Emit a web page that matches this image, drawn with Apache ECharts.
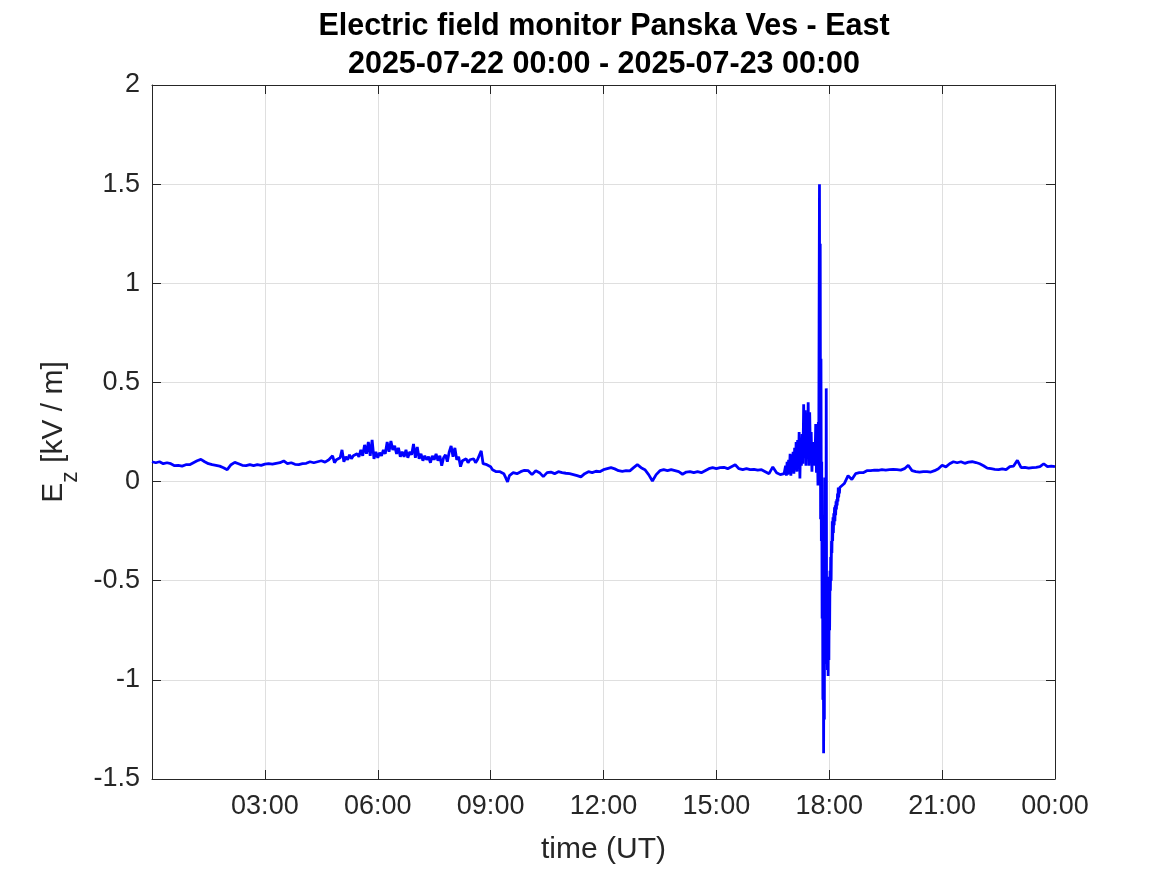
<!DOCTYPE html>
<html>
<head>
<meta charset="utf-8">
<script src="https://cdn.jsdelivr.net/npm/echarts@6/dist/echarts.min.js"></script>
<style>
html,body{margin:0;padding:0;background:#fff;}
#chart{width:1167px;height:875px;}
</style>
</head>
<body>
<div id="chart"></div>
<script>
// ---- Data (hours since 2025-07-22 00:00 UT, Ez in kV/m) ----
const titleLines = ['Electric field monitor Panska Ves - East', '2025-07-22 00:00 - 2025-07-23 00:00'];
const xTickLabels = ['', '03:00', '06:00', '09:00', '12:00', '15:00', '18:00', '21:00', '00:00'];
const yTickValues = [-1.5, -1, -0.5, 0, 0.5, 1, 1.5, 2];

// segment 1: 0.0h .. 4.7h, every 0.1h
const seg1Start = 0.0, seg1Step = 0.1;
const seg1Values = [
  0.10, 0.095, 0.10, 0.09, 0.095, 0.09,
  0.08, 0.082, 0.078, 0.085, 0.085,
  0.095, 0.105, 0.112, 0.10, 0.09,
  0.085, 0.082, 0.078, 0.07, 0.06,
  0.085, 0.097, 0.09, 0.082, 0.08,
  0.085, 0.08, 0.085, 0.082, 0.088,
  0.09, 0.088, 0.092, 0.095, 0.104,
  0.09, 0.095, 0.087, 0.085, 0.09,
  0.092, 0.10, 0.095, 0.10, 0.105, 0.098, 0.11
];

// segment 2: 4.8h .. 9.55h, every 0.05h (noisy morning)
const seg2Start = 4.8, seg2Step = 0.05;
const seg2Values = [
  0.13, 0.095, 0.11, 0.10, 0.12, 0.16, 0.10, 0.125, 0.11, 0.135,
  0.115, 0.13, 0.12, 0.14, 0.125, 0.16, 0.13, 0.185, 0.14, 0.20,
  0.13, 0.21, 0.115, 0.15, 0.12, 0.145, 0.13, 0.16, 0.14, 0.20,
  0.15, 0.205, 0.16, 0.18, 0.14, 0.17, 0.125, 0.15, 0.125, 0.16,
  0.12, 0.15, 0.135, 0.19, 0.12, 0.175, 0.115, 0.14, 0.105, 0.13,
  0.11, 0.125, 0.095, 0.13, 0.11, 0.14, 0.105, 0.13, 0.08, 0.12,
  0.135, 0.10, 0.15, 0.18, 0.125, 0.17, 0.11, 0.125, 0.075, 0.105,
  0.10, 0.115, 0.095, 0.11, 0.10, 0.115, 0.095, 0.11, 0.10, 0.155,
  0.09, 0.10, 0.085, 0.095, 0.075, 0.06, 0.065, 0.05, 0.055, 0.05,
  0.045, 0.04, 0.02, -0.002, 0.03, 0.04
];

// segment 3: 9.6h .. 16.7h, every 0.1h
const seg3Start = 9.6, seg3Step = 0.1;
const seg3Values = [
  0.045, 0.04, 0.05, 0.057, 0.055,
  0.035, 0.055, 0.045, 0.025, 0.045,
  0.048, 0.04, 0.05, 0.045, 0.042,
  0.04, 0.035, 0.03, 0.024, 0.04,
  0.05, 0.045, 0.052, 0.05, 0.06,
  0.065, 0.07, 0.064, 0.055, 0.052,
  0.055, 0.054, 0.07, 0.085, 0.07,
  0.06, 0.035, 0.003, 0.035, 0.055,
  0.06, 0.055, 0.06, 0.055, 0.05,
  0.037, 0.048, 0.05, 0.045, 0.05,
  0.045, 0.055, 0.065, 0.07, 0.065,
  0.07, 0.072, 0.065, 0.075, 0.085,
  0.065, 0.06, 0.065, 0.06, 0.062,
  0.058, 0.06, 0.05, 0.04, 0.074,
  0.045, 0.035
];

// segment 4: 16.8h .. 17.68h, every 0.02h (storm onset)
const seg4Start = 16.8, seg4Step = 0.02;
const seg4Values = [
  0.04, 0.035, 0.08, 0.03, 0.10, 0.035, 0.11, 0.04, 0.14, 0.03,
  0.12, 0.05, 0.15, 0.04, 0.17, 0.06, 0.20, 0.05, 0.21, 0.07,
  0.25, 0.015, 0.22, 0.08, 0.24, 0.09, 0.39, 0.12, 0.36, 0.08,
  0.29, 0.12, 0.40, 0.08, 0.35, 0.13, 0.25, 0.05, 0.20, 0.10,
  0.15, 0.08, 0.29, 0.045, 0.28
];

// segment 5: 17.70h .. 18.29h, every 0.01h (lightning activity)
const seg5Start = 17.7, seg5Step = 0.01;
const seg5Values = [
  -0.02, 0.30, 0.05, 0.80, 1.50, 0.10, 1.20, -0.19, 0.62, -0.30,
  0.10, -0.69, -0.20, -1.10, -0.40, -1.37, -0.60, -1.20, 0.02, -0.92,
  -0.30, -0.80, 0.47, -0.73, -0.50, -0.95, -0.48, -0.98, -0.55, -0.90,
  -0.50, -0.75, -0.45, -0.55, -0.38, -0.50, -0.30, -0.36, -0.20, -0.30,
  -0.18, -0.26, -0.16, -0.22, -0.13, -0.20, -0.12, -0.17, -0.10, -0.14,
  -0.09, -0.12, -0.06, -0.10, -0.03, -0.08, -0.04, -0.06, -0.03, -0.04
];

// segment 6: 18.3h .. 24.0h, every 0.1h (recovery)
const seg6Start = 18.3, seg6Step = 0.1;
const seg6Values = [
  -0.02, -0.01, 0.03, 0.01, 0.04, 0.045, 0.045, 0.055, 0.055, 0.058,
  0.057, 0.06, 0.058, 0.06, 0.062, 0.06, 0.058, 0.065, 0.082, 0.055,
  0.05, 0.048, 0.05, 0.05, 0.048, 0.055, 0.065, 0.082, 0.074, 0.09,
  0.10, 0.095, 0.10, 0.092, 0.098, 0.10, 0.096, 0.09, 0.08, 0.068,
  0.065, 0.062, 0.06, 0.064, 0.06, 0.075, 0.078, 0.107, 0.07, 0.072,
  0.068, 0.07, 0.072, 0.075, 0.09, 0.075, 0.078, 0.075
];

// ---- build series ----
function seg(start, step, vals) {
  return vals.map((v, i) => [+(start + i * step).toFixed(3), v]);
}
const lineData = [].concat(
  seg(seg1Start, seg1Step, seg1Values),
  seg(seg2Start, seg2Step, seg2Values),
  seg(seg3Start, seg3Step, seg3Values),
  seg(seg4Start, seg4Step, seg4Values),
  seg(seg5Start, seg5Step, seg5Values),
  seg(seg6Start, seg6Step, seg6Values)
);

const FONT = 'Liberation Sans, Arial, Helvetica, sans-serif';
const AX = '#262626';
const GRIDC = '#dfdfdf';

const chart = echarts.init(document.getElementById('chart'), null, {renderer: 'canvas'});
const xCommon = {type: 'value', min: 0, max: 24, interval: 3};
const yCommon = {type: 'value', min: -1.5, max: 2, interval: 0.5};

chart.setOption({
  animation: false,
  backgroundColor: '#ffffff',
  title: {
    text: titleLines.join('\n'),
    left: 599,
    textAlign: 'center',
    top: 3,
    textStyle: {fontFamily: FONT, fontSize: 30.5, fontWeight: 'bold', color: '#000', lineHeight: 38}
  },
  grid: {left: 152, right: 112, top: 85, bottom: 96, containLabel: false,
         show: true, borderWidth: 0, backgroundColor: '#fff'},
  xAxis: [
    Object.assign({}, xCommon, {
      position: 'bottom',
      name: 'time (UT)', nameLocation: 'middle', nameGap: 56,
      nameTextStyle: {fontFamily: FONT, fontSize: 30, color: AX},
      axisLine: {show: true, onZero: false, lineStyle: {color: AX, width: 1}},
      axisTick: {show: true, inside: true, length: 9, lineStyle: {color: AX}},
      axisLabel: {fontFamily: FONT, fontSize: 27, color: AX, margin: 14,
        formatter: function (v) { return xTickLabels[Math.round(v / 3)]; }},
      splitLine: {show: true, lineStyle: {color: GRIDC, width: 1}}
    }),
    Object.assign({}, xCommon, {
      position: 'top',
      axisLine: {show: true, onZero: false, lineStyle: {color: AX, width: 1}},
      axisTick: {show: true, inside: true, length: 9, lineStyle: {color: AX}},
      axisLabel: {show: false},
      splitLine: {show: false}
    })
  ],
  yAxis: [
    Object.assign({}, yCommon, {
      position: 'left',
      name: '{e|E}{z|z}{e| [kV / m]}', nameLocation: 'middle', nameGap: 72, nameRotate: 90,
      nameTextStyle: {fontFamily: FONT, fontSize: 30, color: AX,
        rich: {
          e: {fontFamily: FONT, fontSize: 30, color: AX, lineHeight: 33, verticalAlign: 'top'},
          z: {fontFamily: FONT, fontSize: 23, color: AX, lineHeight: 23, verticalAlign: 'top', padding: [21, 0, 0, 0]}
        }},
      axisLine: {show: true, onZero: false, lineStyle: {color: AX, width: 1}},
      axisTick: {show: true, inside: true, length: 9, lineStyle: {color: AX}},
      axisLabel: {fontFamily: FONT, fontSize: 27, color: AX, margin: 12,
        formatter: function (v) { return String(v); }},
      splitLine: {show: true, lineStyle: {color: GRIDC, width: 1}}
    }),
    Object.assign({}, yCommon, {
      position: 'right',
      axisLine: {show: true, onZero: false, lineStyle: {color: AX, width: 1}},
      axisTick: {show: true, inside: true, length: 9, lineStyle: {color: AX}},
      axisLabel: {show: false},
      splitLine: {show: false}
    })
  ],
  series: [{
    type: 'line',
    xAxisIndex: 0, yAxisIndex: 0,
    data: lineData,
    showSymbol: false,
    symbol: 'none',
    sampling: null,
    lineStyle: {color: '#0000ff', width: 2.8},
    z: 3
  }]
});
</script>
</body>
</html>
